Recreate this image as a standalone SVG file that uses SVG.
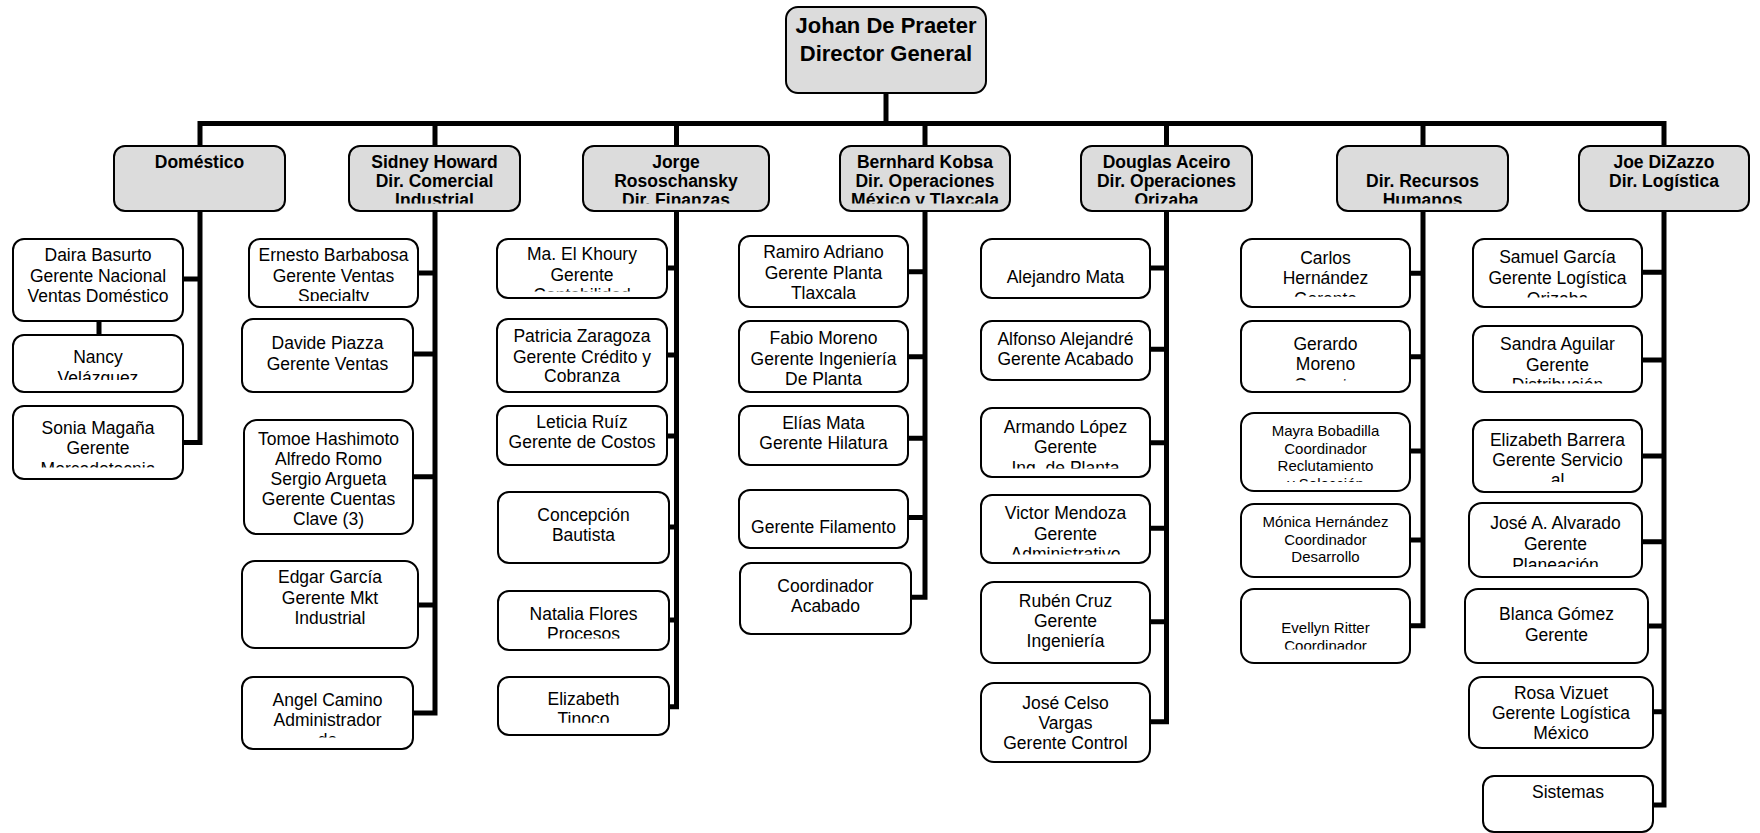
<svg xmlns="http://www.w3.org/2000/svg" width="1760" height="833" viewBox="0 0 1760 833">
<style>
.hb{fill:#dcdcdc;stroke:#000;stroke-width:2}
.cb{fill:#fff;stroke:#000;stroke-width:2}
.ht{font-family:"Liberation Sans",Arial,sans-serif;font-weight:bold;font-size:17.5px;text-anchor:middle;fill:#000}
.tt{font-family:"Liberation Sans",Arial,sans-serif;font-weight:bold;font-size:22px;text-anchor:middle;fill:#000}
.ct{font-family:"Liberation Sans",Arial,sans-serif;font-size:17.5px;text-anchor:middle;fill:#000}
.st{font-family:"Liberation Sans",Arial,sans-serif;font-size:15px;text-anchor:middle;fill:#000}
.c{fill:none;stroke:#000;stroke-width:5;stroke-linejoin:miter;stroke-linecap:butt}
</style>
<defs>
<clipPath id="k-hdr"><rect x="0" y="146" width="1760" height="57.5"/></clipPath>
<clipPath id="k-nancy"><rect x="13" y="335" width="170" height="45"/></clipPath>
<clipPath id="k-sonia"><rect x="13" y="406" width="170" height="61.5"/></clipPath>
<clipPath id="k-ernesto"><rect x="249" y="239" width="169" height="62"/></clipPath>
<clipPath id="k-angel"><rect x="242" y="677" width="171" height="60.5"/></clipPath>
<clipPath id="k-khoury"><rect x="497" y="239" width="170" height="52.5"/></clipPath>
<clipPath id="k-natalia"><rect x="498" y="591" width="171" height="47.5"/></clipPath>
<clipPath id="k-tinoco"><rect x="498" y="677" width="171" height="45.7"/></clipPath>
<clipPath id="k-armando"><rect x="981" y="408" width="169" height="60.5"/></clipPath>
<clipPath id="k-victor"><rect x="981" y="495" width="169" height="59.5"/></clipPath>
<clipPath id="k-carlos"><rect x="1241" y="239" width="169" height="57.7"/></clipPath>
<clipPath id="k-gerardo"><rect x="1241" y="321" width="169" height="59.5"/></clipPath>
<clipPath id="k-mayra"><rect x="1241" y="413" width="169" height="69"/></clipPath>
<clipPath id="k-evellyn"><rect x="1241" y="589" width="169" height="60.5"/></clipPath>
<clipPath id="k-samuel"><rect x="1473" y="239" width="169" height="58.5"/></clipPath>
<clipPath id="k-sandra"><rect x="1473" y="326" width="169" height="57.5"/></clipPath>
<clipPath id="k-ebarrera"><rect x="1473" y="420" width="169" height="62"/></clipPath>
<clipPath id="k-alvarado"><rect x="1469" y="503" width="173" height="64"/></clipPath>
</defs>

<g id="connectors">
<path class="c" d="M886,93 V123.5"/>
<path class="c" d="M200,146 V123.5 H1664 V146"/>
<path class="c" d="M435,123.5 V146 M676.5,123.5 V146 M925,123.5 V146 M1166.5,123.5 V146 M1423,123.5 V146"/>
<path class="c" d="M200,211 V442.5 H183 M183,279 H200 M99,321 V335"/>
<path class="c" d="M435,211 V713 H413 M418,273 H435 M413,354 H435 M413,476.7 H435 M418,605 H435"/>
<path class="c" d="M676.5,211 V706.7 H669 M667,268 H676.5 M667,355 H676.5 M667,436 H676.5 M669,527 H676.5 M669,620 H676.5"/>
<path class="c" d="M925,211 V597.3 H910.7 M908,271.7 H925 M908,356.7 H925 M908,438.3 H925 M908,517.5 H925"/>
<path class="c" d="M1166.5,211 V721.7 H1150 M1150,268 H1166.5 M1150,349.3 H1166.5 M1150,442.7 H1166.5 M1150,528.3 H1166.5 M1150,621.7 H1166.5"/>
<path class="c" d="M1423,211 V625.7 H1410 M1410,273.3 H1423 M1410,356.7 H1423 M1410,451 H1423 M1410,540 H1423"/>
<path class="c" d="M1664,211 V805 H1652.7 M1642,272.3 H1664 M1642,360 H1664 M1642,456 H1664 M1642,541.7 H1664 M1648,626 H1664 M1653,711.7 H1664"/>
</g>

<g id="johan"><rect class="hb" x="786" y="7" width="200" height="86" rx="12"/>
<text class="tt"><tspan x="886" y="33">Johan De Praeter</tspan><tspan x="886" y="61">Director General</tspan></text></g>

<g id="domestico"><rect class="hb" x="114" y="146" width="171" height="65" rx="11"/>
<text class="ht" x="199.5" y="168">Doméstico</text></g>
<g id="sidney"><rect class="hb" x="349" y="146" width="171" height="65" rx="11"/>
<text class="ht" clip-path="url(#k-hdr)"><tspan x="434.5" y="168">Sidney Howard</tspan><tspan x="434.5" y="187">Dir. Comercial</tspan><tspan x="434.5" y="206">Industrial</tspan></text></g>
<g id="jorge"><rect class="hb" x="583" y="146" width="186" height="65" rx="11"/>
<text class="ht" clip-path="url(#k-hdr)"><tspan x="676" y="168">Jorge</tspan><tspan x="676" y="187">Rososchansky</tspan><tspan x="676" y="206">Dir. Finanzas</tspan></text></g>
<g id="bernhard"><rect class="hb" x="840" y="146" width="170" height="65" rx="11"/>
<text class="ht" clip-path="url(#k-hdr)"><tspan x="925" y="168">Bernhard Kobsa</tspan><tspan x="925" y="187">Dir. Operaciones</tspan><tspan x="925" y="206">México y Tlaxcala</tspan></text></g>
<g id="douglas"><rect class="hb" x="1081" y="146" width="171" height="65" rx="11"/>
<text class="ht" clip-path="url(#k-hdr)"><tspan x="1166.5" y="168">Douglas Aceiro</tspan><tspan x="1166.5" y="187">Dir. Operaciones</tspan><tspan x="1166.5" y="206">Orizaba</tspan></text></g>
<g id="rrhh"><rect class="hb" x="1337" y="146" width="171" height="65" rx="11"/>
<text class="ht" clip-path="url(#k-hdr)"><tspan x="1422.5" y="187">Dir. Recursos</tspan><tspan x="1422.5" y="206">Humanos</tspan></text></g>
<g id="joe"><rect class="hb" x="1579" y="146" width="170" height="65" rx="11"/>
<text class="ht"><tspan x="1664" y="168">Joe DiZazzo</tspan><tspan x="1664" y="187">Dir. Logística</tspan></text></g>

<g id="daira"><rect class="cb" x="13" y="239" width="170" height="82" rx="11"/>
<text class="ct"><tspan x="98" y="260.7">Daira Basurto</tspan><tspan x="98" y="281.5">Gerente Nacional</tspan><tspan x="98" y="301.7">Ventas Doméstico</tspan></text></g>
<g id="nancy"><rect class="cb" x="13" y="335" width="170" height="57" rx="11"/>
<text class="ct" clip-path="url(#k-nancy)"><tspan x="98" y="363">Nancy</tspan><tspan x="98" y="383.5">Velázquez</tspan></text></g>
<g id="sonia"><rect class="cb" x="13" y="406" width="170" height="73" rx="11"/>
<text class="ct" clip-path="url(#k-sonia)"><tspan x="98" y="434">Sonia Magaña</tspan><tspan x="98" y="454.3">Gerente</tspan><tspan x="98" y="474.7">Mercadotecnia</tspan></text></g>

<g id="ernesto"><rect class="cb" x="249" y="239" width="169" height="68" rx="11"/>
<text class="ct" clip-path="url(#k-ernesto)"><tspan x="333.5" y="260.7">Ernesto Barbabosa</tspan><tspan x="333.5" y="281.5">Gerente Ventas</tspan><tspan x="333.5" y="302">Specialty</tspan></text></g>
<g id="davide"><rect class="cb" x="242" y="319" width="171" height="73" rx="11"/>
<text class="ct"><tspan x="327.5" y="349">Davide Piazza</tspan><tspan x="327.5" y="370">Gerente Ventas</tspan></text></g>
<g id="tomoe"><rect class="cb" x="244" y="420" width="169" height="114" rx="13"/>
<text class="ct"><tspan x="328.5" y="445">Tomoe Hashimoto</tspan><tspan x="328.5" y="465">Alfredo Romo</tspan><tspan x="328.5" y="485">Sergio Argueta</tspan><tspan x="328.5" y="505">Gerente Cuentas</tspan><tspan x="328.5" y="525">Clave (3)</tspan></text></g>
<g id="edgar"><rect class="cb" x="242" y="561" width="176" height="87" rx="13"/>
<text class="ct"><tspan x="330" y="583.3">Edgar García</tspan><tspan x="330" y="603.7">Gerente Mkt</tspan><tspan x="330" y="624">Industrial</tspan></text></g>
<g id="angel"><rect class="cb" x="242" y="677" width="171" height="72" rx="11"/>
<text class="ct" clip-path="url(#k-angel)"><tspan x="327.5" y="705.7">Angel Camino</tspan><tspan x="327.5" y="725.7">Administrador</tspan><tspan x="327.5" y="746">de</tspan></text></g>

<g id="khoury"><rect class="cb" x="497" y="239" width="170" height="59" rx="11"/>
<text class="ct" clip-path="url(#k-khoury)"><tspan x="582" y="260">Ma. El Khoury</tspan><tspan x="582" y="280.7">Gerente</tspan><tspan x="582" y="301.3">Contabilidad</tspan></text></g>
<g id="patricia"><rect class="cb" x="497" y="319" width="170" height="73" rx="11"/>
<text class="ct"><tspan x="582" y="342.3">Patricia Zaragoza</tspan><tspan x="582" y="362.7">Gerente Crédito y</tspan><tspan x="582" y="382.3">Cobranza</tspan></text></g>
<g id="leticia"><rect class="cb" x="497" y="406" width="170" height="59" rx="11"/>
<text class="ct"><tspan x="582" y="428.3">Leticia Ruíz</tspan><tspan x="582" y="448.3">Gerente de Costos</tspan></text></g>
<g id="concepcion"><rect class="cb" x="498" y="492" width="171" height="71" rx="11"/>
<text class="ct"><tspan x="583.5" y="521">Concepción</tspan><tspan x="583.5" y="540.7">Bautista</tspan></text></g>
<g id="natalia"><rect class="cb" x="498" y="591" width="171" height="59" rx="11"/>
<text class="ct" clip-path="url(#k-natalia)"><tspan x="583.5" y="620">Natalia Flores</tspan><tspan x="583.5" y="640">Procesos</tspan></text></g>
<g id="tinoco"><rect class="cb" x="498" y="677" width="171" height="58" rx="11"/>
<text class="ct" clip-path="url(#k-tinoco)"><tspan x="583.5" y="705">Elizabeth</tspan><tspan x="583.5" y="725">Tinoco</tspan></text></g>

<g id="ramiro"><rect class="cb" x="739" y="236" width="169" height="71" rx="11"/>
<text class="ct"><tspan x="823.5" y="258.3">Ramiro Adriano</tspan><tspan x="823.5" y="278.7">Gerente Planta</tspan><tspan x="823.5" y="299">Tlaxcala</tspan></text></g>
<g id="fabio"><rect class="cb" x="739" y="321" width="169" height="71" rx="11"/>
<text class="ct"><tspan x="823.5" y="344.3">Fabio Moreno</tspan><tspan x="823.5" y="364.7">Gerente Ingeniería</tspan><tspan x="823.5" y="384.5">De Planta</tspan></text></g>
<g id="elias"><rect class="cb" x="739" y="406" width="169" height="59" rx="11"/>
<text class="ct"><tspan x="823.5" y="429">Elías Mata</tspan><tspan x="823.5" y="449.3">Gerente Hilatura</tspan></text></g>
<g id="filamento"><rect class="cb" x="739" y="490" width="169" height="58" rx="11"/>
<text class="ct" x="823.5" y="532.7">Gerente Filamento</text></g>
<g id="coordacabado"><rect class="cb" x="740" y="563" width="171" height="71" rx="11"/>
<text class="ct"><tspan x="825.5" y="591.7">Coordinador</tspan><tspan x="825.5" y="611.7">Acabado</tspan></text></g>

<g id="alejandro"><rect class="cb" x="981" y="239" width="169" height="59" rx="11"/>
<text class="ct" x="1065.5" y="283.3">Alejandro Mata</text></g>
<g id="alfonso"><rect class="cb" x="981" y="321" width="169" height="59" rx="11"/>
<text class="ct"><tspan x="1065.5" y="345">Alfonso Alejandré</tspan><tspan x="1065.5" y="365">Gerente Acabado</tspan></text></g>
<g id="armando"><rect class="cb" x="981" y="408" width="169" height="69" rx="11"/>
<text class="ct" clip-path="url(#k-armando)"><tspan x="1065.5" y="433.3">Armando López</tspan><tspan x="1065.5" y="453.3">Gerente</tspan><tspan x="1065.5" y="473.5">Ing. de Planta</tspan></text></g>
<g id="victor"><rect class="cb" x="981" y="495" width="169" height="68" rx="11"/>
<text class="ct" clip-path="url(#k-victor)"><tspan x="1065.5" y="519">Victor Mendoza</tspan><tspan x="1065.5" y="540">Gerente</tspan><tspan x="1065.5" y="560">Administrativo</tspan></text></g>
<g id="ruben"><rect class="cb" x="981" y="582" width="169" height="81" rx="13"/>
<text class="ct"><tspan x="1065.5" y="607.3">Rubén Cruz</tspan><tspan x="1065.5" y="627.3">Gerente</tspan><tspan x="1065.5" y="647.3">Ingeniería</tspan></text></g>
<g id="josecelso"><rect class="cb" x="981" y="683" width="169" height="79" rx="13"/>
<text class="ct"><tspan x="1065.5" y="709">José Celso</tspan><tspan x="1065.5" y="729">Vargas</tspan><tspan x="1065.5" y="749">Gerente Control</tspan></text></g>

<g id="carlos"><rect class="cb" x="1241" y="239" width="169" height="68" rx="11"/>
<text class="ct" clip-path="url(#k-carlos)"><tspan x="1325.5" y="264">Carlos</tspan><tspan x="1325.5" y="284.3">Hernández</tspan><tspan x="1325.5" y="304.5">Gerente</tspan></text></g>
<g id="gerardo"><rect class="cb" x="1241" y="321" width="169" height="71" rx="11"/>
<text class="ct" clip-path="url(#k-gerardo)"><tspan x="1325.5" y="350">Gerardo</tspan><tspan x="1325.5" y="370">Moreno</tspan><tspan x="1325.5" y="390.5">Gerente</tspan></text></g>
<g id="mayra"><rect class="cb" x="1241" y="413" width="169" height="78" rx="13"/>
<text class="st" clip-path="url(#k-mayra)"><tspan x="1325.5" y="436">Mayra Bobadilla</tspan><tspan x="1325.5" y="454">Coordinador</tspan><tspan x="1325.5" y="471">Reclutamiento</tspan><tspan x="1325.5" y="488.5">y Selección</tspan></text></g>
<g id="monica"><rect class="cb" x="1241" y="504" width="169" height="73" rx="13"/>
<text class="st"><tspan x="1325.5" y="527.3">Mónica Hernández</tspan><tspan x="1325.5" y="545">Coordinador</tspan><tspan x="1325.5" y="561.7">Desarrollo</tspan></text></g>
<g id="evellyn"><rect class="cb" x="1241" y="589" width="169" height="74" rx="13"/>
<text class="st" clip-path="url(#k-evellyn)"><tspan x="1325.5" y="633.3">Evellyn Ritter</tspan><tspan x="1325.5" y="650.8">Coordinador</tspan></text></g>

<g id="samuel"><rect class="cb" x="1473" y="239" width="169" height="68" rx="11"/>
<text class="ct" clip-path="url(#k-samuel)"><tspan x="1557.5" y="263.3">Samuel García</tspan><tspan x="1557.5" y="284">Gerente Logística</tspan><tspan x="1557.5" y="304.5">Orizaba</tspan></text></g>
<g id="sandra"><rect class="cb" x="1473" y="326" width="169" height="66" rx="11"/>
<text class="ct" clip-path="url(#k-sandra)"><tspan x="1557.5" y="350">Sandra Aguilar</tspan><tspan x="1557.5" y="370.7">Gerente</tspan><tspan x="1557.5" y="391">Distribución</tspan></text></g>
<g id="ebarrera"><rect class="cb" x="1473" y="420" width="169" height="72" rx="11"/>
<text class="ct" clip-path="url(#k-ebarrera)"><tspan x="1557.5" y="445.7">Elizabeth Barrera</tspan><tspan x="1557.5" y="465.7">Gerente Servicio</tspan><tspan x="1557.5" y="486">al</tspan></text></g>
<g id="alvarado"><rect class="cb" x="1469" y="503" width="173" height="74" rx="13"/>
<text class="ct" clip-path="url(#k-alvarado)"><tspan x="1555.5" y="529">José A. Alvarado</tspan><tspan x="1555.5" y="550">Gerente</tspan><tspan x="1555.5" y="570.5">Planeación</tspan></text></g>
<g id="blanca"><rect class="cb" x="1465" y="589" width="183" height="74" rx="13"/>
<text class="ct"><tspan x="1556.5" y="620">Blanca Gómez</tspan><tspan x="1556.5" y="640.7">Gerente</tspan></text></g>
<g id="rosa"><rect class="cb" x="1469" y="677" width="184" height="71" rx="13"/>
<text class="ct"><tspan x="1561" y="699">Rosa Vizuet</tspan><tspan x="1561" y="719">Gerente Logística</tspan><tspan x="1561" y="739">México</tspan></text></g>
<g id="sistemas"><rect class="cb" x="1483" y="776" width="170" height="56" rx="11"/>
<text class="ct" x="1568" y="798.3">Sistemas</text></g>
</svg>
